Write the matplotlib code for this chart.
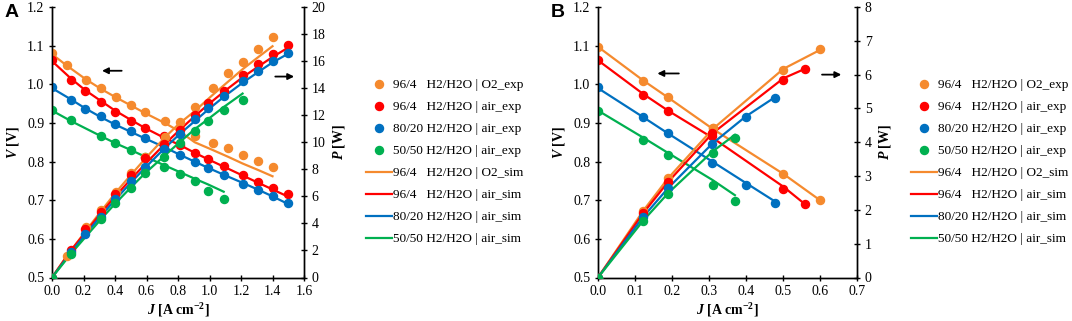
import matplotlib.pyplot as plt
from matplotlib.ticker import FormatStrFormatter

plt.rcParams['font.family'] = ['Liberation Serif', 'DejaVu Serif']
plt.rcParams['font.size'] = 10
plt.rcParams['mathtext.fontset'] = 'custom'
plt.rcParams['mathtext.rm'] = 'Liberation Serif:bold'
plt.rcParams['mathtext.it'] = 'Liberation Serif:bold:italic'
plt.rcParams['mathtext.bf'] = 'Liberation Serif:bold'

colors = ['#F58A2E', '#FF0000', '#0070C0', '#00B050']
labels_exp = ['96/4   H2/H2O | O2_exp', '96/4   H2/H2O | air_exp',
              '80/20 H2/H2O | air_exp', '50/50 H2/H2O | air_exp']
labels_sim = ['96/4   H2/H2O | O2_sim', '96/4   H2/H2O | air_sim',
              '80/20 H2/H2O | air_sim', '50/50 H2/H2O | air_sim']

# ---- panel A data ----
# 96/4 O2
a_j_o2 = [0, 0.095, 0.218, 0.311, 0.406, 0.502, 0.593, 0.72, 0.81, 0.906, 1.02, 1.12, 1.21, 1.31, 1.40]
a_v_o2 = [1.081, 1.051, 1.012, 0.990, 0.966, 0.947, 0.929, 0.906, 0.885, 0.867, 0.849, 0.835, 0.818, 0.802, 0.787]
a_p_o2 = [0, 1.58, 3.7, 4.97, 6.3, 7.7, 8.9, 10.4, 11.5, 12.6, 14.0, 15.1, 15.9, 16.9, 17.8]
a_vs_o2 = [1.078, 1.048, 1.012, 0.988, 0.966, 0.945, 0.925, 0.899, 0.878, 0.850, 0.830, 0.812, 0.795, 0.778, 0.762]
a_ps_o2 = [0, 1.6, 3.5, 4.9, 6.3, 7.6, 8.8, 10.4, 11.4, 12.3, 13.5, 14.5, 15.4, 16.3, 17.1]
# 96/4 air and 80/20 air
a_j_air = [0, 0.12, 0.21, 0.31, 0.40, 0.50, 0.59, 0.71, 0.81, 0.91, 0.99, 1.09, 1.21, 1.31, 1.40, 1.50]
a_v_air96 = [1.063, 1.011, 0.982, 0.955, 0.929, 0.906, 0.887, 0.866, 0.842, 0.823, 0.806, 0.789, 0.766, 0.748, 0.731, 0.716]
a_p_air96 = [0, 2.07, 3.55, 4.85, 6.2, 7.56, 8.8, 9.9, 10.9, 12.0, 12.9, 13.8, 14.95, 15.76, 16.5, 17.17]
a_vs_air96 = [1.060, 1.015, 0.985, 0.957, 0.932, 0.908, 0.887, 0.862, 0.843, 0.822, 0.806, 0.787, 0.764, 0.745, 0.728, 0.709]
a_ps_air96 = [0, 2.0, 3.3, 4.75, 5.97, 7.26, 8.37, 9.8, 10.9, 11.97, 12.77, 13.73, 14.8, 15.6, 16.3, 17.0]
a_v_air80 = [0.992, 0.960, 0.936, 0.917, 0.896, 0.878, 0.861, 0.840, 0.818, 0.800, 0.783, 0.766, 0.743, 0.727, 0.710, 0.693]
a_p_air80 = [0, 1.9, 3.25, 4.5, 5.8, 7.1, 8.2, 9.5, 10.6, 11.7, 12.5, 13.4, 14.5, 15.3, 16.0, 16.6]
a_vs_air80 = [0.990, 0.961, 0.938, 0.915, 0.896, 0.877, 0.860, 0.838, 0.818, 0.799, 0.784, 0.766, 0.745, 0.727, 0.710, 0.690]
a_ps_air80 = [0, 1.85, 3.15, 4.54, 5.73, 7.0, 8.1, 9.5, 10.6, 11.6, 12.4, 13.35, 14.4, 15.2, 15.9, 16.55]
# 50/50 air
a_j_v50 = [0, 0.12, 0.31, 0.40, 0.50, 0.59, 0.71, 0.81, 0.91, 0.99, 1.09]
a_v_air50 = [0.934, 0.908, 0.867, 0.848, 0.830, 0.812, 0.787, 0.768, 0.749, 0.725, 0.704]
a_vs_air50 = [0.932, 0.905, 0.866, 0.848, 0.830, 0.813, 0.791, 0.773, 0.755, 0.741, 0.722]
a_j_p50 = [0, 0.12, 0.31, 0.40, 0.50, 0.59, 0.71, 0.81, 0.91, 0.99, 1.09, 1.21]
a_p_air50 = [0, 1.72, 4.3, 5.5, 6.6, 7.7, 8.9, 9.95, 10.8, 11.6, 12.4, 13.15]
a_ps_air50 = [0, 1.75, 4.3, 5.45, 6.65, 7.7, 8.95, 10.0, 11.0, 11.7, 12.6, 13.6]

# ---- panel B data ----
b_j_o2 = [0, 0.122, 0.189, 0.311, 0.501, 0.600]
b_v_o2 = [1.097, 1.009, 0.966, 0.886, 0.767, 0.701]
b_p_o2 = [0, 1.97, 2.93, 4.42, 6.15, 6.75]
b_vs_o2 = [1.097, 1.010, 0.966, 0.884, 0.768, 0.700]
b_ps_o2 = [0, 1.97, 2.93, 4.40, 6.17, 6.73]
b_j_air96 = [0, 0.122, 0.189, 0.309, 0.501, 0.559]
b_v_air96 = [1.063, 0.973, 0.932, 0.867, 0.728, 0.689]
b_p_air96 = [0, 1.90, 2.82, 4.28, 5.85, 6.18]
b_vs_air96 = [1.062, 0.975, 0.932, 0.862, 0.735, 0.690]
b_ps_air96 = [0, 1.90, 2.82, 4.26, 5.89, 6.17]
b_j_air80 = [0, 0.122, 0.189, 0.309, 0.399, 0.478]
b_v_air80 = [0.992, 0.915, 0.874, 0.797, 0.740, 0.694]
b_p_air80 = [0, 1.79, 2.64, 3.95, 4.74, 5.32]
b_vs_air80 = [0.990, 0.915, 0.873, 0.800, 0.745, 0.697]
b_ps_air80 = [0, 1.79, 2.64, 3.96, 4.76, 5.33]
b_j_air50 = [0, 0.122, 0.190, 0.310, 0.370]
b_v_air50 = [0.932, 0.855, 0.816, 0.739, 0.699]
b_p_air50 = [0, 1.67, 2.48, 3.67, 4.14]
b_vs_air50 = [0.932, 0.862, 0.822, 0.752, 0.713]
b_ps_air50 = [0, 1.68, 2.50, 3.73, 4.22]

W, H = 1072, 321
fig = plt.figure(figsize=(W / 100, H / 100), dpi=100)


def panel(left, right, xmax, pmax, pstep, series, arrow_l, arrow_r, letter, leg_x):
    ax = fig.add_axes([left / W, 43.5 / H, (right - left) / W, (277.5 - 7) / H])
    ax2 = ax.twinx()
    for (jv, v, vs, jp, p, ps), c in zip(series, colors):
        ax.plot(jv, vs, color=c, lw=1.6, zorder=2)
        ax.plot(jv, v, 'o', color=c, ms=5.8, zorder=3)
        ax2.plot(jp, ps, color=c, lw=1.6, zorder=2)
        ax2.plot(jp, p, 'o', color=c, ms=5.8, zorder=3)
    ax.set_xlim(0, xmax)
    ax.set_ylim(0.5, 1.2)
    ax2.set_ylim(0, pmax)
    ax.set_xticks([i / 10 for i in range(0, int(round(xmax * 10)) + 1, 2 if xmax > 1 else 1)])
    ax.set_yticks([0.5 + i / 10 for i in range(8)])
    ax2.set_yticks(list(range(0, pmax + 1, pstep)))
    ax.xaxis.set_major_formatter(FormatStrFormatter('%.1f'))
    ax.yaxis.set_major_formatter(FormatStrFormatter('%.1f'))
    for a in (ax, ax2):
        a.spines['top'].set_visible(False)
        for s in a.spines.values():
            s.set_linewidth(1.0)
        a.tick_params(direction='inout', length=5, width=1.0, labelsize=10, pad=3)
    ax.set_xlabel('$J$ [A cm$^{-2}$]', fontsize=10, fontweight='bold', labelpad=2)
    ax.set_ylabel('$V$ [V]', fontsize=10, fontweight='bold', labelpad=4)
    ax2.set_ylabel('$P$ [W]', fontsize=10, fontweight='bold', labelpad=4)
    ax.annotate('', xy=arrow_l[0], xytext=arrow_l[1],
                arrowprops=dict(arrowstyle='-|>', color='black', lw=1.3, mutation_scale=9))
    ax.annotate('', xy=arrow_r[1], xytext=arrow_r[0],
                arrowprops=dict(arrowstyle='-|>', color='black', lw=1.3, mutation_scale=9),
                annotation_clip=False)
    fig.text((left - 47) / W, 1 - 4 / H, letter, fontsize=14, fontweight='bold',
             family='Liberation Sans', va='top', ha='left')

    # legend: exp first, then sim
    hs = []
    for c, le in zip(colors, labels_exp):
        hs.append(plt.Line2D([], [], ls='none', marker='o', color=c, ms=5.8, label=le))
    for c, ls in zip(colors, labels_sim):
        hs.append(plt.Line2D([], [], color=c, lw=1.6, label=ls))
    fig.legend(handles=hs, loc='upper left', bbox_to_anchor=(leg_x / W, 1 - 79 / H),
               frameon=False, fontsize=9.5, handlelength=2.0, handletextpad=0.05,
               labelspacing=0.74, borderpad=0, borderaxespad=0)
    return ax


sA = [(a_j_o2, a_v_o2, a_vs_o2, a_j_o2, a_p_o2, a_ps_o2),
      (a_j_air, a_v_air96, a_vs_air96, a_j_air, a_p_air96, a_ps_air96),
      (a_j_air, a_v_air80, a_vs_air80, a_j_air, a_p_air80, a_ps_air80),
      (a_j_v50, a_v_air50, a_vs_air50, a_j_p50, a_p_air50, a_ps_air50)]
sB = [(b_j_o2, b_v_o2, b_vs_o2, b_j_o2, b_p_o2, b_ps_o2),
      (b_j_air96, b_v_air96, b_vs_air96, b_j_air96, b_p_air96, b_ps_air96),
      (b_j_air80, b_v_air80, b_vs_air80, b_j_air80, b_p_air80, b_ps_air80),
      (b_j_air50, b_v_air50, b_vs_air50, b_j_air50, b_p_air50, b_ps_air50)]

panel(52, 304, 1.6, 20, 2, sA,
      ((0.30, 1.035), (0.46, 1.035)), ((1.40, 1.02), (1.555, 1.02)), 'A', 366)
panel(598, 857, 0.7, 8, 1, sB,
      ((0.153, 1.028), (0.226, 1.028)), ((0.598, 1.025), (0.665, 1.025)), 'B', 911)

fig.savefig('out.png', dpi=100)
